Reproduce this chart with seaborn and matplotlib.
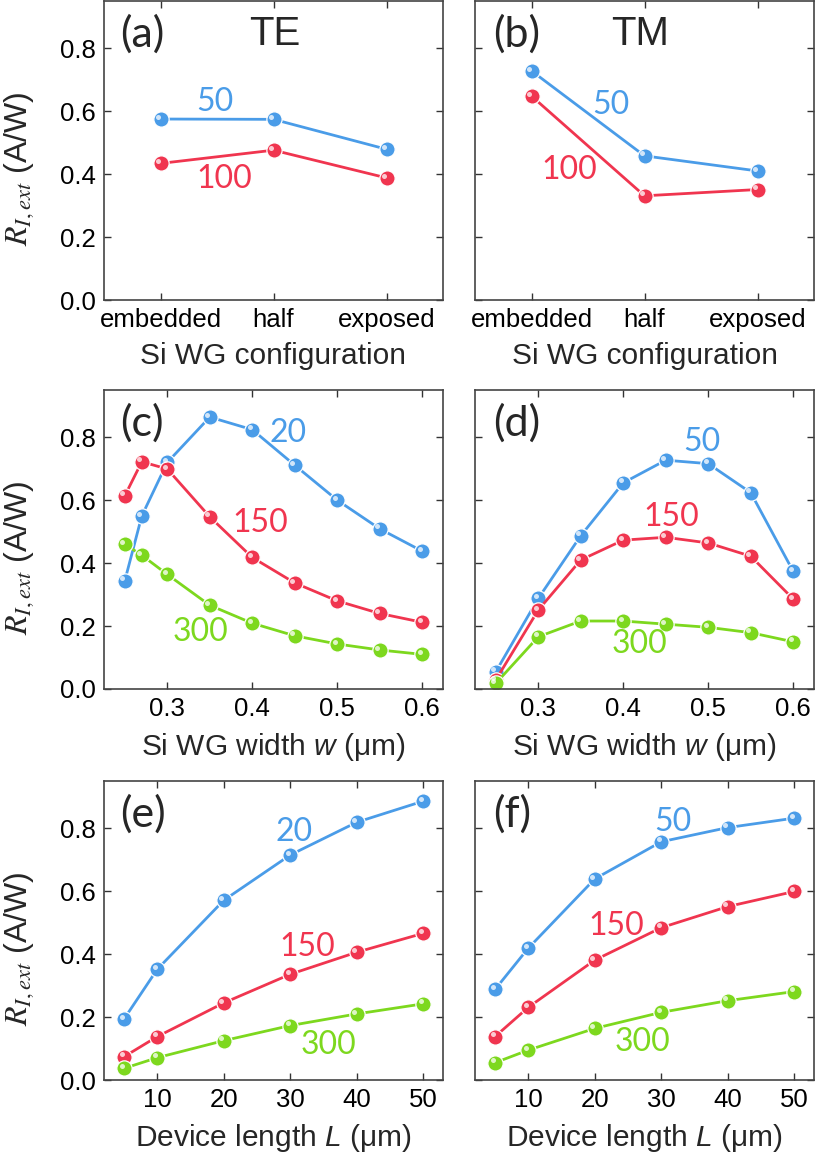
import numpy as np
import pandas as pd
import seaborn as sns
import matplotlib.pyplot as plt
from matplotlib.transforms import offset_copy

# ---- data ----
config = ["embedded", "half", "exposed"]
te_50 = [0.575, 0.574, 0.479]
te_100 = [0.434, 0.476, 0.388]
tm_50 = [0.728, 0.458, 0.410]
tm_100 = [0.648, 0.331, 0.351]

width_c = [0.25, 0.27, 0.30, 0.35, 0.40, 0.45, 0.50, 0.55, 0.60]
c_20 = [0.344, 0.550, 0.720, 0.864, 0.824, 0.711, 0.600, 0.509, 0.438]
c_150 = [0.614, 0.722, 0.699, 0.547, 0.418, 0.337, 0.280, 0.240, 0.212]
c_300 = [0.460, 0.425, 0.364, 0.266, 0.209, 0.169, 0.143, 0.124, 0.110]

width_d = [0.25, 0.30, 0.35, 0.40, 0.45, 0.50, 0.55, 0.60]
d_50 = [0.055, 0.288, 0.487, 0.655, 0.727, 0.716, 0.624, 0.374]
d_150 = [0.029, 0.251, 0.410, 0.473, 0.482, 0.464, 0.422, 0.286]
d_300 = [0.018, 0.166, 0.216, 0.216, 0.206, 0.196, 0.179, 0.150]

length = [5, 10, 20, 30, 40, 50]
e_20 = [0.194, 0.352, 0.571, 0.715, 0.819, 0.886]
e_150 = [0.074, 0.138, 0.245, 0.336, 0.406, 0.466]
e_300 = [0.037, 0.071, 0.125, 0.173, 0.210, 0.242]
f_50 = [0.288, 0.419, 0.639, 0.757, 0.802, 0.832]
f_150 = [0.138, 0.231, 0.381, 0.484, 0.551, 0.599]
f_300 = [0.055, 0.095, 0.164, 0.215, 0.252, 0.281]

BLUE, RED, GREEN = "#4a9ce8", "#f0354f", "#7dd81e"

sns.set_style("ticks")
plt.rcParams["font.family"] = ["Liberation Sans", "DejaVu Sans"]
plt.rcParams["mathtext.fontset"] = "custom"
plt.rcParams["mathtext.it"] = "Liberation Sans:italic"
plt.rcParams["mathtext.rm"] = "Liberation Sans"

fig = plt.figure(figsize=(8.15, 11.6), dpi=100)
w = 339 / 815
h = 299 / 1160
lefts = [104 / 815, 475 / 815]
bottoms = [(1160 - 300) / 1160, (1160 - 689) / 1160, (1160 - 1080) / 1160]


def make_df(x, series):
    rows = []
    for name, vals in series.items():
        for xi, yi in zip(x, vals):
            rows.append({"x": xi, "y": yi, "series": name})
    return pd.DataFrame(rows)


def draw(ax, x, series, palette, numeric=True):
    df = make_df(x, series)
    sns.lineplot(data=df, x="x", y="y", hue="series", palette=palette,
                 sort=False, marker="o", markersize=11, markeredgecolor="white",
                 markeredgewidth=0.9, linewidth=2.0, legend=False, ax=ax)
    # small glossy highlight on each ball
    hl = offset_copy(ax.transData, fig=fig, x=-1.7, y=1.7, units="points")
    xpos = x if numeric else list(range(len(x)))
    for name, vals in series.items():
        ax.plot(xpos, vals, linestyle="none", marker="o", markersize=3.6,
                color="white", alpha=0.75, markeredgewidth=0, transform=hl)


def style(ax, col, label, tag=None):
    ax.set_ylim(0, 0.95)
    ax.set_yticks([0.0, 0.2, 0.4, 0.6, 0.8])
    ax.tick_params(direction="in", length=5, width=1, top=True, right=True,
                   labelsize=18.5, colors="#333333", labelcolor="black", pad=6)
    for s in ax.spines.values():
        s.set_color("#444444")
        s.set_linewidth(1.2)
    if col == 0:
        ax.set_ylabel(r"$R_{I,ext}$ (A/W)", fontsize=23, math_fontfamily="stix")
        ax.yaxis.set_label_coords(-0.2, 0.44)
    else:
        ax.set_ylabel("")
        ax.set_yticklabels([])
    ax.set_xlabel("")
    ax.text(0.047 if col == 0 else 0.054, 0.89, label, transform=ax.transAxes,
            fontsize=31, family="Lato", ha="left", va="center")
    if tag:
        ax.text(0.504 if col == 0 else 0.487, 0.89, tag, transform=ax.transAxes,
                fontsize=29, ha="center", va="center")


def note(ax, x, y, s, c):
    ax.text(x, y, s, color=c, fontsize=23, family="Lato", ha="center", va="center")


axes = [[fig.add_axes([lefts[c], bottoms[r], w, h]) for c in range(2)] for r in range(3)]

# (a) TE
ax = axes[0][0]
draw(ax, config, {"50": te_50, "100": te_100}, {"50": BLUE, "100": RED}, numeric=False)
ax.set_xlim(-0.5, 2.5)
style(ax, 0, "(a)", "TE")
note(ax, 0.48, 0.63, "50", BLUE)
note(ax, 0.56, 0.386, "100", RED)

# (b) TM
ax = axes[0][1]
draw(ax, config, {"50": tm_50, "100": tm_100}, {"50": BLUE, "100": RED}, numeric=False)
ax.set_xlim(-0.5, 2.5)
style(ax, 1, "(b)", "TM")
note(ax, 0.70, 0.619, "50", BLUE)
note(ax, 0.33, 0.413, "100", RED)

for ax in axes[0]:
    ax.set_xticks(range(len(config)))
    ax.set_xticklabels(config)
    ax.set_xlabel("Si WG configuration", fontsize=21.5, labelpad=7)

# (c)
ax = axes[1][0]
draw(ax, width_c, {"20": c_20, "150": c_150, "300": c_300},
     {"20": BLUE, "150": RED, "300": GREEN})
style(ax, 0, "(c)")
note(ax, 0.442, 0.812, "20", BLUE)
note(ax, 0.409, 0.529, "150", RED)
note(ax, 0.339, 0.182, "300", GREEN)

# (d)
ax = axes[1][1]
draw(ax, width_d, {"50": d_50, "150": d_150, "300": d_300},
     {"50": BLUE, "150": RED, "300": GREEN})
style(ax, 1, "(d)")
note(ax, 0.493, 0.785, "50", BLUE)
note(ax, 0.456, 0.547, "150", RED)
note(ax, 0.419, 0.143, "300", GREEN)

for ax in axes[1]:
    ax.set_xlim(0.2255, 0.6245)
    ax.set_xticks([0.3, 0.4, 0.5, 0.6])
    ax.set_xlabel(r"Si WG width $w$ (μm)", fontsize=21.5, labelpad=7)

# (e)
ax = axes[2][0]
draw(ax, length, {"20": e_20, "150": e_150, "300": e_300},
     {"20": BLUE, "150": RED, "300": GREEN})
style(ax, 0, "(e)")
note(ax, 30.5, 0.789, "20", BLUE)
note(ax, 32.6, 0.424, "150", RED)
note(ax, 35.7, 0.111, "300", GREEN)

# (f)
ax = axes[2][1]
draw(ax, length, {"50": f_50, "150": f_150, "300": f_300},
     {"50": BLUE, "150": RED, "300": GREEN})
style(ax, 1, "(f)")
note(ax, 31.7, 0.821, "50", BLUE)
note(ax, 23.2, 0.49, "150", RED)
note(ax, 27.1, 0.122, "300", GREEN)

for ax in axes[2]:
    ax.set_xlim(1.98, 52.97)
    ax.set_xticks([10, 20, 30, 40, 50])
    ax.set_xlabel(r"Device length $L$ (μm)", fontsize=21.5, labelpad=7)

fig.savefig("out.png", dpi=100)
plt.close(fig)
